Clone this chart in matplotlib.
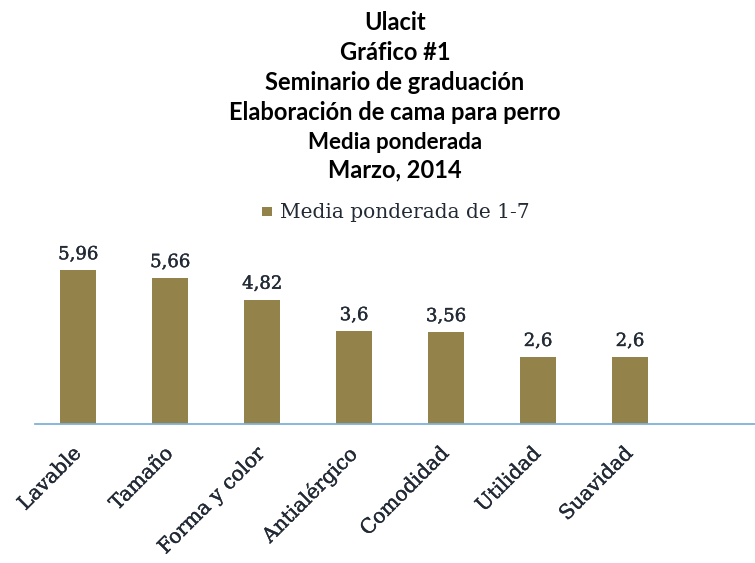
import matplotlib
matplotlib.use("Agg")
import matplotlib.pyplot as plt
import matplotlib.patheffects as pe
from matplotlib.patches import Rectangle

categories = ["Lavable", "Tamaño", "Forma y color", "Antialérgico", "Comodidad", "Utilidad", "Suavidad"]
values = [5.96, 5.66, 4.82, 3.6, 3.56, 2.6, 2.6]
value_labels = ["5,96", "5,66", "4,82", "3,6", "3,56", "2,6", "2,6"]
title_lines = ["Ulacit", "Gráfico #1", "Seminario de graduación", "Elaboración de cama para perro",
               "Media ponderada", "Marzo, 2014"]
legend_label = "Media ponderada de 1-7"

BAR = "#93824A"
AXIS = "#7FB2D9"
TXT = "#222A35"
W, H = 755, 563
thick = [pe.withStroke(linewidth=0.3, foreground=TXT)]

fig = plt.figure(figsize=(W / 100, H / 100), dpi=100)
fig.patch.set_facecolor("white")

ax_left, ax_right = 35, 755
ax_bottom = 424
ymax = 7.0
ax_h = ymax * 25.8
ax = fig.add_axes([ax_left / W, (H - ax_bottom) / H, (ax_right - ax_left) / W, ax_h / H])
x = list(range(len(categories)))
ax.bar(x, values, width=0.39, color=BAR)
ax.set_xlim(-0.47, 7.36)
ax.set_ylim(0, ymax)
for s in ["top", "right", "left"]:
    ax.spines[s].set_visible(False)
ax.spines["bottom"].set_color(AXIS)
ax.spines["bottom"].set_linewidth(1.3)
ax.set_yticks([])
ax.tick_params(axis="x", length=0, pad=19)
ax.set_xticks(x)
ax.set_xticklabels(categories, rotation=45, ha="right", va="center", rotation_mode="anchor",
                   family="DejaVu Serif", fontsize=14.5, color=TXT)
for lab in ax.get_xticklabels():
    lab.set_path_effects(thick)

for xi, v, lbl in zip(x, values, value_labels):
    ax.annotate(lbl, (xi, v), xytext=(0, 5), textcoords="offset points", ha="center", va="bottom",
                family="DejaVu Serif", fontsize=13, color=TXT, path_effects=thick)

ys = [22, 52, 82, 112, 142, 170]
sizes = [17, 17, 17, 17, 16, 17]
for t, yy, sz in zip(title_lines, ys, sizes):
    fig.text(395 / W, 1 - yy / H, t, ha="center", va="center", family="Lato",
             fontweight="bold", fontsize=sz, color="black")

fig.patches.append(Rectangle((262 / W, 1 - 216 / H), 10 / W, 9 / H, transform=fig.transFigure,
                             facecolor=BAR, edgecolor="none"))
fig.text(280 / W, 1 - 213 / H, legend_label, ha="left", va="center", family="DejaVu Serif",
         fontsize=14.5, color=TXT)

fig.savefig("out.png", dpi=100)
